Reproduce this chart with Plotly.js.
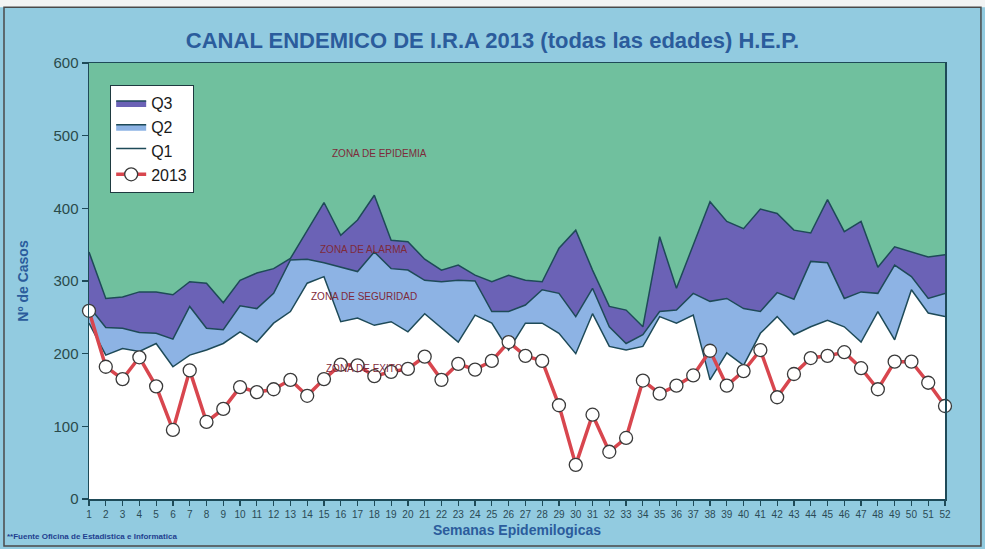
<!DOCTYPE html>
<html>
<head>
<meta charset="utf-8">
<script src="https://cdn.plot.ly/plotly-3.0.1.min.js"></script>
<style>
  html, body { margin: 0; padding: 0; background: #ffffff; }
  #chart { width: 985px; height: 549px; }
</style>
</head>
<body>
<div id="chart"></div>
<script>
// ---- Data ----
const weeks = [1,2,3,4,5,6,7,8,9,10,11,12,13,14,15,16,17,18,19,20,21,22,23,24,25,26,
               27,28,29,30,31,32,33,34,35,36,37,38,39,40,41,42,43,44,45,46,47,48,49,50,51,52];

const q1 = [242,198,207,203,214,182,198,205,214,230,
            216,242,258,297,306,244,249,239,244,230,
            255,235,216,253,242,205,242,242,228,200,
            255,210,205,210,251,242,253,164,201,184,
            228,251,226,237,246,237,216,258,219,288,
            256,251];

const q2 = [265,236,235,229,228,220,265,235,233,266,
            262,283,329,330,325,319,313,340,317,315,
            301,299,301,300,258,258,267,288,283,251,
            290,237,214,226,258,260,283,272,276,262,
            258,284,275,327,325,276,285,283,322,306,
            276,283];

const q3 = [340,276,278,285,285,281,299,297,270,301,
            311,317,331,370,408,363,384,418,356,354,
            330,315,322,308,299,308,301,299,345,370,
            315,265,260,237,361,290,350,409,382,372,
            399,393,370,366,412,368,382,319,347,340,
            333,336];

const y2013 = [259,182,165,195,155,95,177,106,124,154,
               147,151,164,142,165,185,184,169,175,179,
               196,164,186,178,190,216,197,190,129,47,
               116,65,84,163,145,156,170,204,156,176,
               205,140,172,194,197,202,180,151,189,189,
               160,128];

const seriesNames = ["Q3", "Q2", "Q1", "2013"];
const zoneLabels = ["ZONA DE EPIDEMIA", "ZONA DE ALARMA", "ZONA DE SEGURIDAD", "ZONA DE EXITO"];
const zoneX = [18.3, 17.4, 17.4, 17.4];
const zoneY = [476, 344, 279, 180];
const yTicks = [0, 100, 200, 300, 400, 500, 600];

// ---- Styling ----
const edge = "#1e4a58";
const traces = [
  { x: weeks, y: q3, name: seriesNames[0], type: "scatter", mode: "lines", fill: "tozeroy",
    fillcolor: "#6b62b6", line: { color: edge, width: 1.5 }, legendgroup: "a" },
  { x: weeks, y: q2, name: seriesNames[1], type: "scatter", mode: "lines", fill: "tozeroy",
    fillcolor: "#8db3e4", line: { color: edge, width: 1.5 }, legendgroup: "b" },
  { x: weeks, y: q1, name: seriesNames[2], type: "scatter", mode: "lines", fill: "tozeroy",
    fillcolor: "#ffffff", line: { color: edge, width: 1.5 }, legendgroup: "c" },
  { x: weeks, y: y2013, name: seriesNames[3], type: "scatter", mode: "lines+markers",
    line: { color: "#d8464e", width: 3.5 },
    marker: { symbol: "circle", size: 13, color: "#ffffff", line: { color: "#3a3a3a", width: 1.3 } },
    cliponaxis: false, legendgroup: "d" }
];

const annotations = zoneLabels.map((t, i) => ({
  x: zoneX[i], y: zoneY[i], xref: "x", yref: "y", text: t, showarrow: false,
  font: { family: "Liberation Sans, Arial, sans-serif", size: 10, color: "#7e2a3a" }
}));
annotations.push({
  x: -0.098, y: -0.085, xref: "paper", yref: "paper", xanchor: "left", yanchor: "middle",
  text: "<b>**Fuente Oficina de Estadistica e Informatica</b>", showarrow: false,
  font: { family: "Liberation Sans, Arial, sans-serif", size: 8, color: "#1f3f8f" }
});

const layout = {
  width: 985, height: 549,
  margin: { l: 89, r: 40, t: 63, b: 50 },
  paper_bgcolor: "#92cbe0",
  plot_bgcolor: "#70c09e",
  showlegend: true,
  title: {
    text: "<b>CANAL ENDEMICO DE I.R.A 2013 (todas las edades) H.E.P.</b>",
    x: 0.5, xref: "container", xanchor: "center",
    y: 0.927, yref: "container", yanchor: "middle",
    font: { family: "Liberation Sans, Arial, sans-serif", size: 22, color: "#2b5c9c" }
  },
  xaxis: {
    range: [1, 52], tickmode: "array", tickvals: weeks, ticktext: weeks.map(String),
    ticks: "outside", ticklen: 5, tickwidth: 1.2, tickcolor: edge,
    showline: true, linecolor: edge, linewidth: 1.5, mirror: true,
    showgrid: false, zeroline: false,
    tickfont: { family: "Liberation Sans, Arial, sans-serif", size: 10, color: "#2a4a55" },
    title: { text: "<b>Semanas Epidemilogicas</b>", standoff: 6,
             font: { family: "Liberation Sans, Arial, sans-serif", size: 14, color: "#2b5c9c" } }
  },
  yaxis: {
    range: [0, 600], tickmode: "array", tickvals: yTicks,
    ticks: "outside", ticklen: 6, tickwidth: 1.2, tickcolor: edge,
    showline: true, linecolor: edge, linewidth: 1.5, mirror: true,
    showgrid: false, zeroline: false,
    tickfont: { family: "Liberation Sans, Arial, sans-serif", size: 15, color: "#2a4a4a" },
    title: { text: "<b>Nº de Casos</b>", standoff: 21,
             font: { family: "Liberation Sans, Arial, sans-serif", size: 14, color: "#2b5c9c" } }
  },
  legend: {
    x: 0.0245, y: 0.95, xanchor: "left", yanchor: "top",
    bgcolor: "#ffffff", bordercolor: "#1e3a40", borderwidth: 1.2,
    tracegroupgap: 6, traceorder: "normal",
    font: { family: "Liberation Sans, Arial, sans-serif", size: 16, color: "#1a1a1a" }
  },
  annotations: annotations,
  shapes: [
    { type: "rect", xref: "paper", yref: "paper", x0: -0.11, x1: 1.06, y0: 1.128, y1: 1.2,
      fillcolor: "#f2f4f4", line: { width: 0 }, layer: "below" },
    { type: "rect", xref: "paper", yref: "paper", x0: -0.0993, x1: 1.042, y0: -0.108, y1: 1.128,
      line: { color: "#4a4a4a", width: 1.5 }, layer: "below" }
  ]
};

Plotly.newPlot("chart", traces, layout, { staticPlot: true, displayModeBar: false });
</script>
</body>
</html>
